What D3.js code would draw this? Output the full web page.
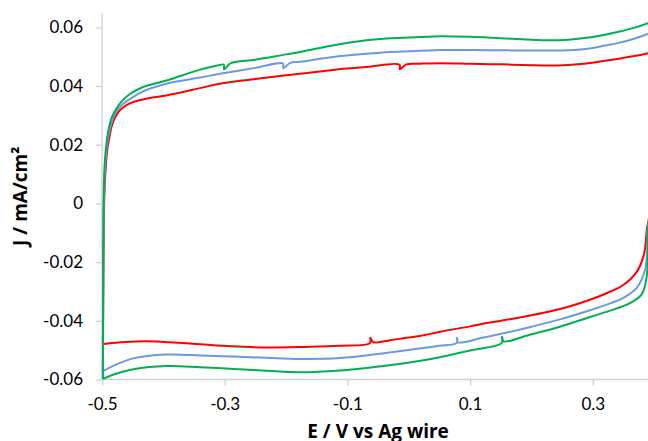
<!DOCTYPE html>
<html>
<head>
<meta charset="utf-8">
<script src="https://cdn.jsdelivr.net/npm/d3@7"></script>
<style>
  html, body { margin: 0; padding: 0; background: #ffffff; }
  svg { display: block; }
</style>
</head>
<body>
<svg id="chart" width="648" height="441"></svg>
<script>
// ---------------- DATA ----------------
const xTicks = [-0.5, -0.3, -0.1, 0.1, 0.3];
const xTickLabels = ["-0.5", "-0.3", "-0.1", "0.1", "0.3"];
const yTicks = [-0.06, -0.04, -0.02, 0, 0.02, 0.04, 0.06];
const yTickLabels = ["-0.06", "-0.04", "-0.02", "0", "0.02", "0.04", "0.06"];
const xTitle = "E / V vs Ag wire";
const yTitle = "J / mA/cm²";
const seriesNames = ["red", "blue", "green"];

// [E (V), J (mA/cm²)] — anodic sweep (top) then cathodic sweep (bottom)
const redCurve = [
  [-0.4985,-0.0480],[-0.4975,-0.0200],[-0.4965,0.0000],[-0.4940,0.0120],[-0.4910,0.0190],
  [-0.4880,0.0225],[-0.4840,0.0265],[-0.4790,0.0292],[-0.4720,0.0315],[-0.4600,0.0335],
  [-0.4450,0.0348],[-0.4200,0.0360],[-0.3950,0.0368],[-0.3400,0.0393],[-0.3080,0.0408],
  [-0.2500,0.0424],[-0.2000,0.0437],[-0.1770,0.0442],[-0.1200,0.0456],[-0.0690,0.0465],
  [-0.0150,0.0473],[-0.0145,0.0457],[-0.0040,0.0474],[0.0180,0.0476],[0.0510,0.0478],
  [0.1000,0.0476],[0.1500,0.0474],[0.2000,0.0471],[0.2250,0.0470],[0.2600,0.0472],
  [0.2900,0.0477],[0.3200,0.0486],[0.3450,0.0494],[0.3700,0.0503],[0.3900,0.0512],
  [0.3950,0.0516],
  [0.3950,0.0000],[0.3880,-0.0090],[0.3860,-0.0140],[0.3823,-0.0182],[0.3716,-0.0233],
  [0.3497,-0.0278],[0.3226,-0.0306],[0.2954,-0.0328],[0.2465,-0.0360],[0.1810,-0.0389],
  [0.1320,-0.0406],[0.1000,-0.0419],[0.0510,-0.0437],[0.0180,-0.0452],[-0.0040,-0.0458],
  [-0.0300,-0.0466],[-0.0580,-0.0473],[-0.0625,-0.0458],[-0.0632,-0.0476],[-0.1120,-0.0485],
  [-0.1700,-0.0489],[-0.2320,-0.0491],[-0.2900,-0.0487],[-0.3400,-0.0480],[-0.3900,-0.0473],
  [-0.4270,-0.0470],[-0.4600,-0.0472],[-0.4900,-0.0477],[-0.4985,-0.0480]
];

const blueCurve = [
  [-0.4985,-0.0572],[-0.4980,-0.0300],[-0.4970,0.0000],[-0.4950,0.0120],[-0.4920,0.0200],
  [-0.4880,0.0245],[-0.4830,0.0285],[-0.4770,0.0312],[-0.4680,0.0335],[-0.4550,0.0355],
  [-0.4300,0.0385],[-0.3950,0.0408],[-0.3400,0.0429],[-0.3080,0.0442],[-0.2500,0.0462],
  [-0.2050,0.0477],[-0.2045,0.0461],[-0.1930,0.0479],[-0.1770,0.0483],[-0.1200,0.0500],
  [-0.0690,0.0510],[-0.0300,0.0516],[0.0180,0.0520],[0.0510,0.0523],[0.1000,0.0523],
  [0.1500,0.0522],[0.2000,0.0521],[0.2250,0.0521],[0.2600,0.0522],[0.2800,0.0525],
  [0.3000,0.0530],[0.3200,0.0538],[0.3440,0.0548],[0.3700,0.0563],[0.3900,0.0578],
  [0.3950,0.0582],
  [0.3950,0.0000],[0.3893,-0.0090],[0.3888,-0.0159],[0.3851,-0.0227],[0.3716,-0.0288],
  [0.3497,-0.0322],[0.3226,-0.0345],[0.2954,-0.0364],[0.2465,-0.0395],[0.2000,-0.0420],
  [0.1600,-0.0440],[0.1200,-0.0458],[0.0800,-0.0473],[0.0788,-0.0458],[0.0780,-0.0476],
  [0.0500,-0.0485],[0.0180,-0.0494],[-0.0040,-0.0500],[-0.0500,-0.0513],[-0.1120,-0.0527],
  [-0.1770,-0.0530],[-0.2320,-0.0526],[-0.2860,-0.0522],[-0.3400,-0.0518],[-0.3950,-0.0515],
  [-0.4490,-0.0528],[-0.4800,-0.0552],[-0.4985,-0.0572]
];

const greenCurve = [
  [-0.4985,-0.0598],[-0.4982,-0.0300],[-0.4975,0.0000],[-0.4960,0.0120],[-0.4930,0.0200],
  [-0.4890,0.0255],[-0.4840,0.0293],[-0.4770,0.0322],[-0.4660,0.0352],[-0.4550,0.0372],
  [-0.4350,0.0395],[-0.3950,0.0419],[-0.3400,0.0456],[-0.3080,0.0472],[-0.3015,0.0473],
  [-0.3010,0.0457],[-0.2900,0.0478],[-0.2500,0.0490],[-0.2000,0.0508],[-0.1770,0.0516],
  [-0.1200,0.0540],[-0.0690,0.0556],[-0.0300,0.0563],[0.0180,0.0567],[0.0510,0.0570],
  [0.1000,0.0568],[0.1500,0.0563],[0.2000,0.0558],[0.2250,0.0556],[0.2600,0.0558],
  [0.3000,0.0567],[0.3200,0.0575],[0.3440,0.0586],[0.3700,0.0600],[0.3900,0.0614],
  [0.3950,0.0618],
  [0.3950,0.0000],[0.3898,-0.0090],[0.3895,-0.0159],[0.3878,-0.0250],[0.3797,-0.0310],
  [0.3606,-0.0340],[0.3334,-0.0362],[0.2954,-0.0387],[0.2465,-0.0420],[0.2000,-0.0446],
  [0.1545,-0.0470],[0.1522,-0.0455],[0.1512,-0.0476],[0.1000,-0.0501],[0.0510,-0.0524],
  [-0.0040,-0.0544],[-0.0500,-0.0556],[-0.1120,-0.0569],[-0.1770,-0.0575],[-0.2320,-0.0570],
  [-0.2860,-0.0564],[-0.3400,-0.0558],[-0.3950,-0.0554],[-0.4490,-0.0565],[-0.4800,-0.0582],
  [-0.4985,-0.0598]
];

const colors = ["#ff0000", "#6d9ade", "#00b050"];
const curves = [redCurve, blueCurve, greenCurve];

// ---------------- CHART ----------------
const svg = d3.select("#chart");
const W = 648, H = 441;

const x = d3.scaleLinear().domain([-0.5, 0.4]).range([102, 654.15]);
const y = d3.scaleLinear().domain([-0.06, 0.0649]).range([379.5, 13]);

const fontFamily = "Lato, 'Open Sans', 'DejaVu Sans', sans-serif";
const titleFont = "'Open Sans', Lato, 'DejaVu Sans', sans-serif";
const axisColor = "#d0d0d0";

// y axis line
svg.append("line")
  .attr("x1", x(-0.5)).attr("x2", x(-0.5))
  .attr("y1", y.range()[1]).attr("y2", y.range()[0])
  .attr("stroke", axisColor).attr("stroke-width", 1.3);

// x axis line
svg.append("line")
  .attr("x1", x(-0.5)).attr("x2", W)
  .attr("y1", y(-0.06)).attr("y2", y(-0.06))
  .attr("stroke", axisColor).attr("stroke-width", 1.3);

// y ticks
const yAxis = d3.axisLeft(y).tickValues(yTicks)
  .tickFormat((d, i) => yTickLabels[i]).tickSize(6).tickPadding(13);
const gy = svg.append("g").attr("transform", `translate(${x(-0.5)},0)`).call(yAxis);
gy.select(".domain").remove();
gy.selectAll(".tick line").attr("stroke", axisColor).attr("stroke-width", 1.3);
gy.selectAll(".tick text")
  .attr("fill", "#000").style("font-family", fontFamily).style("font-size", "17px");

// x ticks
const xAxis = d3.axisBottom(x).tickValues(xTicks)
  .tickFormat((d, i) => xTickLabels[i]).tickSize(6).tickPadding(12);
const gx = svg.append("g").attr("transform", `translate(0,${y(-0.06)})`).call(xAxis);
gx.select(".domain").remove();
gx.selectAll(".tick line").attr("stroke", axisColor).attr("stroke-width", 1.3);
gx.selectAll(".tick text")
  .attr("fill", "#000").style("font-family", fontFamily).style("font-size", "17px");

// curves
const line = d3.line()
  .x(d => x(d[0])).y(d => y(d[1]))
  .curve(d3.curveCatmullRom.alpha(0.5));

svg.append("clipPath").attr("id", "plotclip")
  .append("rect").attr("x", x(-0.5) - 3).attr("y", 0)
  .attr("width", W - x(-0.5) + 3).attr("height", H);

const gLines = svg.append("g").attr("clip-path", "url(#plotclip)");
curves.forEach((c, i) => {
  gLines.append("path")
    .datum(c)
    .attr("class", "series-" + seriesNames[i])
    .attr("fill", "none")
    .attr("stroke", colors[i])
    .attr("stroke-width", 2)
    .attr("stroke-linejoin", "round")
    .attr("d", line);
});

// axis titles
svg.append("text")
  .attr("x", (x(-0.5) + x(0.4)) / 2)
  .attr("y", 438)
  .attr("text-anchor", "middle")
  .style("font-family", titleFont)
  .style("font-weight", "bold")
  .style("font-size", "19px")
  .attr("fill", "#000")
  .text(xTitle);

svg.append("text")
  .attr("transform", `translate(27,${(y.range()[0] + y.range()[1]) / 2}) rotate(-90)`)
  .attr("text-anchor", "middle")
  .style("font-family", titleFont)
  .style("font-weight", "bold")
  .style("font-size", "19px")
  .attr("fill", "#000")
  .text(yTitle);
</script>
</body>
</html>
